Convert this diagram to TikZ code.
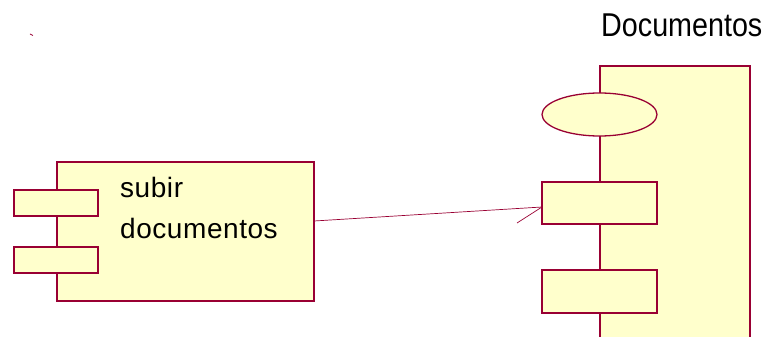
\documentclass[tikz,border=0pt]{standalone}
\usepackage{fontspec}
\setmainfont{Liberation Sans}
\newfontfamily\titlefont[FakeStretch=0.87]{Liberation Sans}
\newfontfamily\bodyfont[LetterSpace=2]{Liberation Sans}
\usetikzlibrary{shapes.geometric}
\definecolor{edge}{HTML}{990033}
\definecolor{fillc}{HTML}{FFFFCC}
\begin{document}
\begin{tikzpicture}[x=1pt,y=-1pt,
  shapebox/.style={draw=edge,fill=fillc,line width=1.3pt},
  lbl/.style={inner sep=0pt,anchor=base west,font=\bodyfont\fontsize{28}{34}\selectfont},
  conn/.style={draw=edge,line width=0.7pt}]
\useasboundingbox (0,0) rectangle (769,337);
% left component
\node[shapebox,minimum width=257pt,minimum height=139pt,inner sep=0pt] (comp) at (185.5,231.5) {};
\node[shapebox,minimum width=84pt,minimum height=26pt,inner sep=0pt] (p1) at (56,203) {};
\node[shapebox,minimum width=84pt,minimum height=26pt,inner sep=0pt] (p2) at (56,260) {};
\node[lbl] (t1) at (120,197) {subir};
\node[lbl] (t2) at (120,238) {documentos};
% right package
\draw[shapebox] (600,338) -- (600,66) -- (750,66) -- (750,338);
\node[shapebox,ellipse,minimum width=115pt,minimum height=43pt,inner sep=0pt] (el) at (599.5,114.5) {};
\node[shapebox,minimum width=115pt,minimum height=42pt,inner sep=0pt] (r1) at (599.5,203) {};
\node[shapebox,minimum width=115pt,minimum height=43pt,inner sep=0pt] (r2) at (599.5,291.5) {};
\node[inner sep=0pt,anchor=base west,font=\titlefont\fontsize{33}{40}\selectfont] (title) at (601,37) {Documentos};
% connector
\coordinate (s) at (314,221);
\coordinate (e) at (542,207);
\coordinate (barb) at (517,223);
\draw[conn] (s) -- (e);
\draw[conn] (e) -- (barb);
% small mark
\draw[draw=edge,line width=0.8pt] (30,34) -- (33,35.5);
\end{tikzpicture}
\end{document}
